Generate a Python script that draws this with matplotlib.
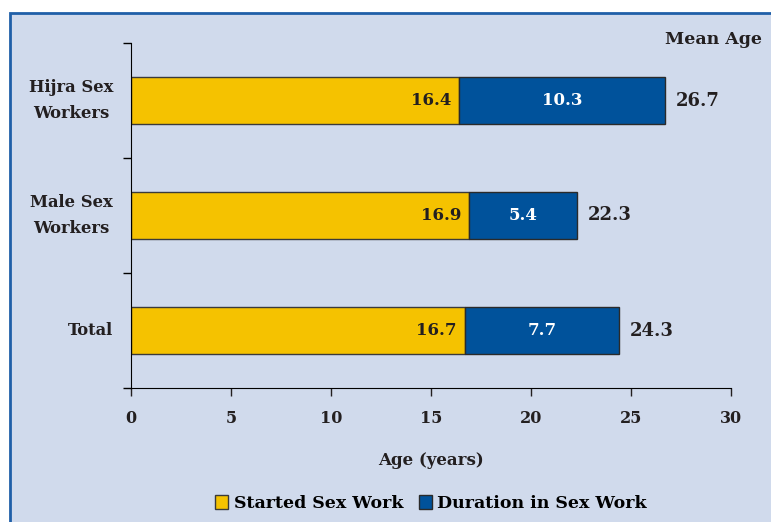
import matplotlib.pyplot as plt
from matplotlib.patches import Rectangle

groups = ["Hijra Sex\nWorkers", "Male Sex\nWorkers", "Total"]
started = [16.4, 16.9, 16.7]
duration = [10.3, 5.4, 7.7]
mean_age = [26.7, 22.3, 24.3]

bg = "#D0DAEC"
yellow = "#F5C200"
blue = "#00529B"
ink = "#231F20"

plt.rcParams['font.family'] = ['DejaVu Serif']
plt.rcParams['font.weight'] = 'bold'
plt.rcParams['axes.labelweight'] = 'bold'

fig = plt.figure(figsize=(7.71, 5.22), dpi=100)
fig.patch.set_facecolor("white")
# bordered panel behind the chart
fig.patches.append(Rectangle((10 / 771, -0.05), 1.0, 1 - 13 / 522 + 0.05,
                             transform=fig.transFigure, facecolor=bg,
                             edgecolor="#1F5FA8", linewidth=2, zorder=0))

ax = fig.add_axes([131 / 771, 1 - 388 / 522, 600 / 771, 345 / 522])
ax.set_zorder(2)
ax.patch.set_alpha(0)

pos = [2, 1, 0]
h = 0.41
ax.barh(pos, started, height=h, color=yellow, edgecolor="#3a3a3a", linewidth=1,
        label="Started Sex Work")
ax.barh(pos, duration, left=started, height=h, color=blue, edgecolor="#2a2a2a",
        linewidth=1, label="Duration in Sex Work")

for p, s, d, m in zip(pos, started, duration, mean_age):
    ax.text(s - 0.4, p, f"{s}", ha="right", va="center", fontsize=12,
            color=ink, fontweight="bold")
    ax.text(s + d / 2, p, f"{d}", ha="center", va="center", fontsize=12,
            color="white", fontweight="bold")
    ax.text(s + d + 0.55, p, f"{m}", ha="left", va="center", fontsize=13,
            color=ink, fontweight="bold")

ax.text(31.55, 2.53, "Mean Age", ha="right", va="center", fontsize=12.5,
        color=ink, clip_on=False, fontweight="bold")

for p, g in zip(pos, groups):
    ax.text(-0.9, p, g, ha="right", va="center", fontsize=11.8, color=ink,
            clip_on=False, linespacing=1.65, multialignment="center",
            fontweight="bold")

ax.set_xlim(0, 30)
ax.set_ylim(-0.5, 2.5)
ax.set_xticks(range(0, 31, 5))
ax.set_yticks([-0.5, 0.5, 1.5, 2.5])
ax.set_yticklabels([])
ax.tick_params(axis="y", length=6, direction="out", width=1)
ax.tick_params(axis="x", length=6, direction="out", width=1, labelsize=11.5,
               pad=10, colors=ink)
for lbl in ax.get_xticklabels():
    lbl.set_fontweight("bold")
ax.spines["top"].set_visible(False)
ax.spines["right"].set_visible(False)
ax.set_xlabel("Age (years)", fontsize=12, labelpad=18, color=ink,
              fontweight="bold")

ax.legend(loc="center", bbox_to_anchor=(0.5, -0.335), ncol=2,
          frameon=False, fontsize=12.5, handlelength=0.75,
          handleheight=0.85, handletextpad=0.3, columnspacing=0.9)

fig.savefig("out.png", dpi=100)
